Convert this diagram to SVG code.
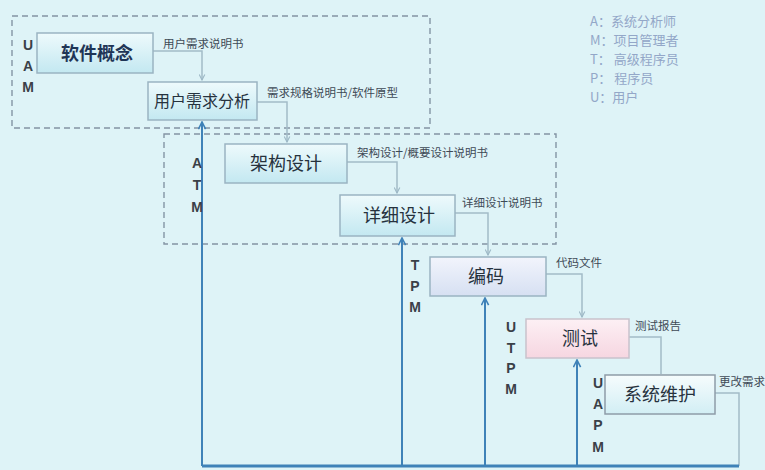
<svg xmlns="http://www.w3.org/2000/svg" width="765" height="470" viewBox="0 0 765 470">
<defs>
<linearGradient id="gBlue" x1="0" y1="0" x2="0" y2="1"><stop offset="0" stop-color="#eefafc"/><stop offset="1" stop-color="#c3e8f1"/></linearGradient>
<linearGradient id="gLav" x1="0" y1="0" x2="0" y2="1"><stop offset="0" stop-color="#f2f4fc"/><stop offset="1" stop-color="#d6e0f2"/></linearGradient>
<linearGradient id="gPink" x1="0" y1="0" x2="0" y2="1"><stop offset="0" stop-color="#fdf0f4"/><stop offset="1" stop-color="#f6d6e1"/></linearGradient>
<linearGradient id="gWhite" x1="0" y1="0" x2="0" y2="1"><stop offset="0" stop-color="#f6fcfd"/><stop offset="1" stop-color="#d2eef4"/></linearGradient>
<marker id="aGray" viewBox="0 0 10 10" refX="9" refY="5" markerWidth="7" markerHeight="7" orient="auto" markerUnits="userSpaceOnUse"><path d="M1,1 L9,5 L1,9" fill="none" stroke="#9db8c6" stroke-width="1.6"/></marker>
<marker id="aBlue" viewBox="0 0 10 10" refX="9" refY="5" markerWidth="9" markerHeight="9" orient="auto" markerUnits="userSpaceOnUse"><path d="M1,1 L9,5 L1,9" fill="none" stroke="#3f82b8" stroke-width="1.8"/></marker>
</defs>
<style>
.box{stroke:#9ab4c2;stroke-width:1.5}
.bt{font-family:"Noto Sans CJK SC",sans-serif;font-size:18px;fill:#26323e;text-anchor:middle}
.lbl{font-family:"Noto Sans CJK SC",sans-serif;font-size:11.5px;fill:#3e4a56}
.role{font-family:"Liberation Sans",Arial,sans-serif;font-size:14px;font-weight:bold;fill:#3a4048;text-anchor:middle}
.leg{font-family:"Noto Sans CJK SC",sans-serif;font-size:13px;fill:#93a7c8}
.dash{fill:none;stroke:#8494a4;stroke-width:1.4;stroke-dasharray:6 4}
.con{fill:none;stroke:#a3bcc8;stroke-width:1.5}
.fb{fill:none;stroke:#3f82b8;stroke-width:2}
</style>
<rect x="0" y="0" width="765" height="470" fill="#def3f7"/>

<g id="groups">
<rect class="dash" x="12" y="16" width="418" height="112"/>
<rect class="dash" x="164" y="134" width="392" height="110"/>
</g>

<g id="connectors">
<polyline class="con" points="153,51 202,51 202,80" marker-end="url(#aGray)"/>
<polyline class="con" points="257,102 287,102 287,142" marker-end="url(#aGray)"/>
<polyline class="con" points="347,162 397,162 397,193" marker-end="url(#aGray)"/>
<polyline class="con" points="455,213 488,213 488,255" marker-end="url(#aGray)"/>
<polyline class="con" points="546,274 582,274 582,317" marker-end="url(#aGray)"/>
<polyline class="con" points="629,337 661,337 661,374"/>
<polyline class="con" points="715,393 739,393 739,466"/>
<line class="fb" x1="202" y1="466" x2="202" y2="122" marker-end="url(#aBlue)"/>
<line class="fb" x1="402" y1="466" x2="402" y2="238" marker-end="url(#aBlue)"/>
<line class="fb" x1="485" y1="466" x2="485" y2="298" marker-end="url(#aBlue)"/>
<line class="fb" x1="577" y1="466" x2="577" y2="360" marker-end="url(#aBlue)"/>
<line x1="202" y1="466" x2="739" y2="466" stroke="#3f82b8" stroke-width="3"/>
<text class="lbl" x="163" y="48">用户需求说明书</text>
<text class="lbl" x="267" y="97">需求规格说明书/软件原型</text>
<text class="lbl" x="357" y="157">架构设计/概要设计说明书</text>
<text class="lbl" x="462" y="207">详细设计说明书</text>
<text class="lbl" x="556" y="267">代码文件</text>
<text class="lbl" x="635" y="330">测试报告</text>
<text class="lbl" x="719" y="386">更改需求</text>
</g>

<g id="n-concept">
<rect class="box" x="37" y="33" width="116" height="40" fill="url(#gBlue)"/>
<text class="bt" x="97" y="60" style="font-weight:bold;fill:#1f3556">软件概念</text>
</g>
<g id="n-req">
<rect class="box" x="148" y="82" width="109" height="38" fill="url(#gBlue)"/>
<text class="bt" x="202" y="107" style="font-size:16px">用户需求分析</text>
</g>
<g id="n-arch">
<rect class="box" x="225" y="144" width="122" height="39" fill="url(#gBlue)"/>
<text class="bt" x="286" y="170">架构设计</text>
</g>
<g id="n-detail">
<rect class="box" x="340" y="195" width="115" height="41" fill="url(#gBlue)"/>
<text class="bt" x="399" y="222">详细设计</text>
</g>
<g id="n-code">
<rect class="box" x="430" y="257" width="116" height="39" fill="url(#gLav)"/>
<text class="bt" x="486" y="283">编码</text>
</g>
<g id="n-test">
<rect class="box" x="526" y="319" width="103" height="39" fill="url(#gPink)" style="stroke:#c9c2cc"/>
<text class="bt" x="580" y="345">测试</text>
</g>
<g id="n-maint">
<rect class="box" x="605" y="375" width="110" height="39" fill="url(#gWhite)" style="stroke:#8e9ca8"/>
<text class="bt" x="660" y="401">系统维护</text>
</g>

<g id="roles">
<text class="role" x="28" y="50">U</text>
<text class="role" x="28" y="71">A</text>
<text class="role" x="28" y="92">M</text>
<text class="role" x="197" y="168">A</text>
<text class="role" x="197" y="190">T</text>
<text class="role" x="197" y="212">M</text>
<text class="role" x="415" y="270">T</text>
<text class="role" x="415" y="291">P</text>
<text class="role" x="415" y="312">M</text>
<text class="role" x="511" y="332">U</text>
<text class="role" x="511" y="353">T</text>
<text class="role" x="511" y="373">P</text>
<text class="role" x="511" y="394">M</text>
<text class="role" x="598" y="388">U</text>
<text class="role" x="598" y="409">A</text>
<text class="role" x="598" y="430">P</text>
<text class="role" x="598" y="452">M</text>
</g>

<g id="legend">
<text class="leg" x="590" y="26">A：系统分析师</text>
<text class="leg" x="590" y="45">M：项目管理者</text>
<text class="leg" x="590" y="64">T：  高级程序员</text>
<text class="leg" x="590" y="83">P：  程序员</text>
<text class="leg" x="590" y="102">U：用户</text>
</g>
</svg>
